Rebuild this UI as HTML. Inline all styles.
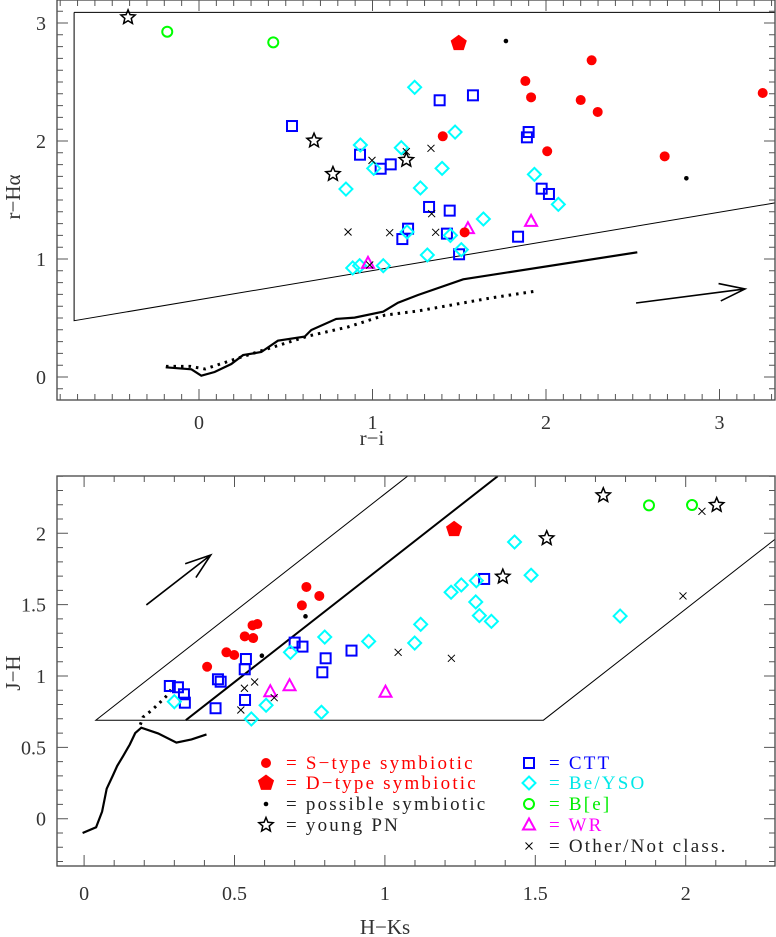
<!DOCTYPE html>
<html><head><meta charset="utf-8">
<style>
html,body{margin:0;padding:0;background:#fff;}
svg{display:block;}
text{font-family:"Liberation Serif","DejaVu Serif",serif;}
text.leg{letter-spacing:2.2px;}
</style></head>
<body>
<svg id="chart" width="776" height="937" viewBox="0 0 776 937" xmlns="http://www.w3.org/2000/svg">
<g id="top"></g>
<g id="bot"></g>
<g id="legend"></g>
</svg>
<script>
// ---------- TOP PANEL DATA (r-i, r-Halpha) ----------
const topSType = [[2.263,2.684],[1.881,2.508],[1.914,2.370],[2.200,2.347],[2.298,2.246],[1.405,2.040],[2.007,1.913],[2.684,1.870],[3.249,2.407],[1.531,1.226]];
const topDType = [[1.497,2.828]];
const topPossible = [[1.769,2.847],[2.809,1.684]];
const topPN = [[-0.409,3.048],[0.663,2.003],[0.772,1.720],[1.195,1.839]];
const topBe = [[-0.183,2.926],[0.428,2.836]];
const topCTT = [[0.536,2.127],[0.928,1.884],[1.047,1.765],[1.105,1.802],[1.205,1.257],[1.172,1.169],[1.387,2.345],[1.579,2.387],[1.900,2.076],[1.890,2.031],[1.975,1.596],[2.017,1.551],[1.326,1.441],[1.445,1.410],[1.429,1.215],[1.499,1.040],[1.839,1.189]];
const topYSO = [[0.930,1.966],[1.166,1.943],[1.007,1.768],[0.847,1.593],[1.243,2.455],[0.886,0.924],[0.926,0.943],[1.062,0.943],[1.199,1.229],[1.476,2.076],[1.401,1.768],[1.276,1.602],[1.933,1.717],[2.071,1.463],[1.639,1.339],[1.449,1.200],[1.512,1.079],[1.316,1.034]];
const topWR = [[0.974,0.963],[1.550,1.257],[1.914,1.319]];
const topOther = [[0.997,1.836],[0.859,1.229],[1.099,1.223],[1.195,1.910],[0.984,0.949],[1.337,1.938],[1.341,1.384],[1.364,1.226]];
const topSolid = [[-0.192,0.082],[-0.044,0.065],[0.013,0.011],[0.090,0.042],[0.186,0.110],[0.254,0.186],[0.359,0.212],[0.455,0.308],[0.609,0.342],[0.647,0.398],[0.791,0.492],[0.897,0.503],[1.061,0.553],[1.147,0.630],[1.262,0.695],[1.523,0.828],[2.526,1.057]];
const topDotted = [[-0.19,0.09],[-0.05,0.09],[0.035,0.068],[0.243,0.169],[0.628,0.347],[0.858,0.424],[1.072,0.525],[1.262,0.559],[1.677,0.669],[1.946,0.729]];
const topBox = [[-0.72,3.09],[-0.72,0.477],[3.32,1.475]];
const topBoxTop = [[-0.72,3.09],[3.32,3.09]];
const topArrow = [[2.519,0.627],[3.147,0.746]];
const topXTicks = ["0","1","2","3"];
const topYTicks = ["0","1","2","3"];

// ---------- BOTTOM PANEL DATA (H-Ks, J-H) ----------
const botSType = [[0.739,1.624],[0.782,1.561],[0.724,1.495],[0.560,1.355],[0.576,1.364],[0.534,1.278],[0.562,1.266],[0.473,1.166],[0.499,1.147],[0.409,1.065]];
const botDType = [[1.230,2.028]];
const botPossible = [[0.736,1.418],[0.591,1.142]];
const botPN = [[1.726,2.266],[2.103,2.198],[1.538,1.965],[1.392,1.696]];
const botBe = [[1.878,2.196],[2.021,2.198]];
const botCTT = [[0.285,0.930],[0.312,0.921],[0.332,0.872],[0.335,0.813],[0.445,0.977],[0.454,0.960],[0.538,1.119],[0.534,1.047],[0.535,0.832],[0.437,0.774],[0.700,1.234],[0.726,1.206],[0.803,1.124],[0.792,1.026],[0.889,1.178],[1.330,1.680]];
const botYSO = [[0.300,0.820],[0.556,0.699],[0.605,0.795],[0.686,1.166],[0.800,1.273],[0.946,1.243],[0.789,0.746],[1.119,1.362],[1.099,1.231],[1.220,1.587],[1.254,1.638],[1.304,1.668],[1.302,1.519],[1.314,1.423],[1.354,1.383],[1.431,1.939],[1.486,1.706],[1.782,1.420]];
const botWR = [[0.619,0.890],[0.683,0.932],[1.002,0.886]];
const botOther = [[0.533,0.914],[0.567,0.958],[0.632,0.848],[0.521,0.762],[1.044,1.166],[1.221,1.124],[1.991,1.561],[2.054,2.154]];
const botSolid = [[-0.005,-0.10],[0.04,-0.06],[0.06,0.05],[0.075,0.21],[0.095,0.30],[0.11,0.37],[0.13,0.44],[0.152,0.52],[0.17,0.60],[0.19,0.638],[0.246,0.598],[0.307,0.533],[0.357,0.556],[0.407,0.591]];
const botDotted = [[0.187,0.659],[0.196,0.713],[0.225,0.76],[0.25,0.81],[0.275,0.862],[0.296,0.925]];
const botBoxThin = [[1.075,2.40],[0.039,0.69],[1.527,0.69],[2.297,1.958]];
const botBoxThick = [[0.338,0.69],[1.375,2.40]];
const botArrow = [[0.207,1.498],[0.421,1.848]];
const botXTicks = ["0","0.5","1","1.5","2"];
const botYTicks = ["0","0.5","1","1.5","2"];

const NS = "http://www.w3.org/2000/svg";
function mk(parent, tag, attrs){
  const e = document.createElementNS(NS, tag);
  for (const k in attrs) e.setAttribute(k, attrs[k]);
  parent.appendChild(e);
  return e;
}
const T = {sx:v=>199+173.5*v, sy:v=>377-118*v, x0:57, x1:775, y0:0, y1:400, xmin:-0.8, xmax:3.3, ymin:-0.1, ymax:3.1};
const B = {sx:v=>84.1+300.8*v, sy:v=>818.7-142.7*v, x0:57, x1:775, y0:476, y1:866, xmin:-0.05, xmax:2.3, ymin:-0.3, ymax:2.4};

function frame(g, P, majX, majY){
  const f = mk(g,'rect',{x:P.x0,y:P.y0,width:P.x1-P.x0,height:P.y1-P.y0,fill:'none',stroke:'#444','stroke-width':1.3});
  
  
  let d='';
  for (let i=Math.ceil(P.xmin*10); i<=Math.floor(P.xmax*10); i++){
    const v=i/10, x=P.sx(v); if(x<P.x0||x>P.x1) continue;
    const major = Math.abs(v/majX-Math.round(v/majX))<1e-6;
    const L = major?11:6;
    d+=`M${x},${P.y1}v${-L}M${x},${P.y0}v${L}`;
  }
  for (let i=Math.ceil(P.ymin*10); i<=Math.floor(P.ymax*10); i++){
    const v=i/10, y=P.sy(v); if(y<P.y0||y>P.y1) continue;
    const major = Math.abs(v/majY-Math.round(v/majY))<1e-6;
    const L = major?11:6;
    d+=`M${P.x0},${y}h${L}M${P.x1},${y}h${-L}`;
  }
  const t = mk(g,'path',{d:d,stroke:'#555','stroke-width':1,fill:'none'});
  
  
}
function tickLabels(g, P, xl, yl, xy, yx){
  xl.forEach(s=>{
    const t = mk(g,'text',{x:P.sx(parseFloat(s)),y:xy,'font-size':20,'text-anchor':'middle',fill:'#333'});
    t.textContent=s;
    
    
  });
  yl.forEach(s=>{
    const t = mk(g,'text',{x:yx,y:P.sy(parseFloat(s))+7,'font-size':20,'text-anchor':'end',fill:'#333'});
    t.textContent=s;
    
    
  });
}
function poly(g, P, pts, attrs, name){
  const d = pts.map((p,i)=>(i?'L':'M')+P.sx(p[0]).toFixed(1)+','+P.sy(p[1]).toFixed(1)).join('');
  const e = mk(g,'path',Object.assign({d:d,fill:'none',stroke:'#000'},attrs));
  
  
  return e;
}
function arrow(g, P, a, name){
  const x1=P.sx(a[0][0]), y1=P.sy(a[0][1]), x2=P.sx(a[1][0]), y2=P.sy(a[1][1]);
  const ang=Math.atan2(y2-y1,x2-x1), L=27, w=0.33;
  const d=`M${x1},${y1}L${x2},${y2}M${x2-L*Math.cos(ang-w)},${y2-L*Math.sin(ang-w)}L${x2},${y2}L${x2-L*Math.cos(ang+w)},${y2-L*Math.sin(ang+w)}`;
  const e = mk(g,'path',{d:d,fill:'none',stroke:'#000','stroke-width':1.6});
  
  
}
function starPath(x,y,R){
  const r=R*0.45; let d='';
  for(let i=0;i<10;i++){const a=-Math.PI/2+i*Math.PI/5, rr=i%2?r:R; d+=(i?'L':'M')+(x+rr*Math.cos(a)).toFixed(2)+','+(y+rr*Math.sin(a)).toFixed(2);}
  return d+'Z';
}
function pentPath(x,y,R){
  let d='';
  for(let i=0;i<5;i++){const a=-Math.PI/2+i*2*Math.PI/5; d+=(i?'L':'M')+(x+R*Math.cos(a)).toFixed(2)+','+(y+R*Math.sin(a)).toFixed(2);}
  return d+'Z';
}
function marker(g, kind, x, y){
  let e;
  if(kind==='s'){ e=mk(g,'circle',{cx:x,cy:y,r:5,fill:'#ff0000'}); }
  else if(kind==='d'){ e=mk(g,'path',{d:pentPath(x,y,8.5),fill:'#ff0000'}); }
  else if(kind==='p'){ e=mk(g,'circle',{cx:x,cy:y,r:2.3,fill:'#000'}); }
  else if(kind==='pn'){ e=mk(g,'path',{d:starPath(x,y,7.5),fill:'none',stroke:'#000','stroke-width':1.5}); }
  else if(kind==='be'){ e=mk(g,'circle',{cx:x,cy:y,r:5,fill:'none',stroke:'#00ff00','stroke-width':2}); }
  else if(kind==='ctt'){ e=mk(g,'rect',{x:x-5,y:y-5,width:10,height:10,fill:'none',stroke:'#0000ff','stroke-width':2}); }
  else if(kind==='yso'){ e=mk(g,'path',{d:`M${x},${y-6.5}L${x+6.5},${y}L${x},${y+6.5}L${x-6.5},${y}Z`,fill:'none',stroke:'#00ffff','stroke-width':2}); }
  else if(kind==='wr'){ e=mk(g,'path',{d:`M${x},${y-6.5}L${x+6},${y+4.5}L${x-6},${y+4.5}Z`,fill:'none',stroke:'#ff00ff','stroke-width':2}); }
  else { e=mk(g,'path',{d:`M${x-3.5},${y-3.5}L${x+3.5},${y+3.5}M${x+3.5},${y-3.5}L${x-3.5},${y+3.5}`,stroke:'#000','stroke-width':1}); }
  return e;
}
function series(g, P, pts, kind, name){
  const sg = mk(g,'g',{});
  
  
  pts.forEach(p=>{
    const e = marker(sg, kind, P.sx(p[0]), P.sy(p[1]));
    
    
  });
}

// TOP
const gt=document.getElementById('top');
poly(gt,T,topBoxTop,{'stroke-width':1},'selection-box-top');
poly(gt,T,topBox,{'stroke-width':1},'selection-box');
poly(gt,T,topSolid,{'stroke-width':2.2},'ms-track-solid');
poly(gt,T,topDotted,{'stroke-width':3,'stroke-dasharray':'2.5 5'},'giant-track-dotted');
arrow(gt,T,topArrow,'reddening-arrow');
series(gt,T,topCTT,'ctt','ctt');
series(gt,T,topYSO,'yso','be-yso');
series(gt,T,topWR,'wr','wr');
series(gt,T,topOther,'x','other');
series(gt,T,topBe,'be','b-e');
series(gt,T,topPN,'pn','young-pn');
series(gt,T,topSType,'s','s-type');
series(gt,T,topDType,'d','d-type');
series(gt,T,topPossible,'p','possible-symbiotic');
frame(gt,T,1,1);
tickLabels(gt,T,topXTicks,topYTicks,429,46);
let lab=mk(gt,'text',{x:372,y:445,'font-size':21,'text-anchor':'middle',fill:'#333'}); lab.textContent='r−i';
 
lab=mk(gt,'text',{x:0,y:0,'font-size':21,'text-anchor':'middle',fill:'#333',transform:'translate(20,197) rotate(-90)'}); lab.textContent='r−Hα';
 

// BOTTOM
const gb=document.getElementById('bot');
const cp=mk(gb,'clipPath',{id:'bclip'}); mk(cp,'rect',{x:B.x0,y:B.y0,width:B.x1-B.x0,height:B.y1-B.y0});
const gbc=mk(gb,'g',{'clip-path':'url(#bclip)'});


poly(gbc,B,botBoxThin,{'stroke-width':1},'selection-box');
poly(gbc,B,botBoxThick,{'stroke-width':2},'boundary-line');
poly(gbc,B,botSolid,{'stroke-width':2.2},'ms-track-solid');
poly(gbc,B,botDotted,{'stroke-width':3,'stroke-dasharray':'2.5 5'},'giant-track-dotted');
arrow(gbc,B,botArrow,'reddening-arrow');
series(gbc,B,botCTT,'ctt','ctt');
series(gbc,B,botYSO,'yso','be-yso');
series(gbc,B,botWR,'wr','wr');
series(gbc,B,botOther,'x','other');
series(gbc,B,botBe,'be','b-e');
series(gbc,B,botPN,'pn','young-pn');
series(gbc,B,botSType,'s','s-type');
series(gbc,B,botDType,'d','d-type');
series(gbc,B,botPossible,'p','possible-symbiotic');
frame(gb,B,0.5,0.5);
tickLabels(gb,B,botXTicks,botYTicks,900,46);
lab=mk(gb,'text',{x:385,y:934,'font-size':21,'text-anchor':'middle',fill:'#333'}); lab.textContent='H−Ks';
 
lab=mk(gb,'text',{x:0,y:0,'font-size':21,'text-anchor':'middle',fill:'#333',transform:'translate(20,673) rotate(-90)'}); lab.textContent='J−H';
 

// LEGEND
const gl=document.getElementById('legend');
const legL=[['s','= S−type symbiotic','#ff0000'],['d','= D−type symbiotic','#ff0000'],['p','= possible symbiotic','#222'],['pn','= young PN','#222']];
const legR=[['ctt','= CTT','#0000ff'],['yso',' = Be/YSO','#00e8e8'],['be','= B[e]','#00ee00'],['wr','= WR','#ff00ff'],['x','= Other/Not class.','#222']];
const rowsY=[763,783,804,825,846];
legL.forEach((r,i)=>{
  const e=marker(gl,r[0],266,rowsY[i]);  
  const t=mk(gl,'text',{class:'leg',x:286,y:rowsY[i]+6,'font-size':19,fill:r[2],'xml:space':'preserve'}); t.textContent=r[1];
   
});
legR.forEach((r,i)=>{
  const e=marker(gl,r[0],529,rowsY[i]);  
  const t=mk(gl,'text',{class:'leg',x:549,y:rowsY[i]+6,'font-size':19,fill:r[2],'xml:space':'preserve'}); t.textContent=r[1];
   
});
</script>
</body></html>
